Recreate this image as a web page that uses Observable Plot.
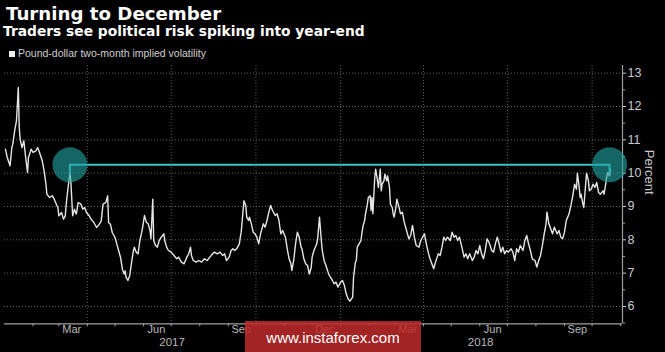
<!DOCTYPE html>
<html><head><meta charset="utf-8">
<script src="https://cdn.jsdelivr.net/npm/d3@7"></script>
<script src="https://cdn.jsdelivr.net/npm/@observablehq/plot@0.6"></script>
<style>
html,body{margin:0;padding:0;background:#000;}
#wrap{position:relative;width:665px;height:352px;overflow:hidden;background:#000;font-family:"Liberation Sans",Arial,sans-serif;}
#title{position:absolute;left:6px;top:5.2px;font-family:"DejaVu Sans",sans-serif;font-size:18.2px;line-height:18.2px;font-weight:bold;color:#fff;white-space:nowrap;}
#subtitle{position:absolute;left:3px;top:25.4px;font-family:"DejaVu Sans",sans-serif;font-size:13.8px;line-height:13.8px;font-weight:bold;color:#fff;white-space:nowrap;}
#legend{position:absolute;left:9px;top:48.3px;font-size:10.5px;line-height:10.5px;color:#cfcfcf;white-space:nowrap;}
#legend .sw{display:inline-block;width:6px;height:6px;background:#eee;margin-right:3px;vertical-align:0px;}
#chart{position:absolute;left:0;top:60px;}
#wm{position:absolute;left:245px;top:321px;width:176px;height:31px;background:rgba(190,42,42,0.86);color:#fff;font-size:15px;line-height:33px;text-align:center;font-family:"Liberation Sans",Arial,sans-serif;}
</style></head>
<body>
<div id="wrap">
  <div id="title">Turning to December</div>
  <div id="subtitle">Traders see political risk spiking into year-end</div>
  <div id="legend"><span class="sw"></span>Pound-dollar two-month implied volatility</div>
  <div id="chart"></div>
  <div id="wm">www.instaforex.com</div>
</div>
<script>
// ---- data ----
const dates = [
 "2017-01-02","2017-01-04","2017-01-07","2017-01-09","2017-01-10","2017-01-12","2017-01-14","2017-01-16","2017-01-17","2017-01-18","2017-01-20","2017-01-22","2017-01-24","2017-01-26","2017-01-27","2017-01-30",
 "2017-02-01","2017-02-04","2017-02-06","2017-02-08","2017-02-11","2017-02-13","2017-02-15","2017-02-16","2017-02-19","2017-02-22","2017-02-24","2017-02-27","2017-02-28",
 "2017-03-01","2017-03-04","2017-03-06","2017-03-08","2017-03-09","2017-03-11","2017-03-13","2017-03-14","2017-03-16","2017-03-18","2017-03-20","2017-03-22","2017-03-25","2017-03-27","2017-03-29","2017-03-31",
 "2017-04-03","2017-04-05","2017-04-08","2017-04-11","2017-04-14","2017-04-16","2017-04-18","2017-04-21","2017-04-23","2017-04-24","2017-04-26","2017-04-28",
 "2017-05-01","2017-05-03","2017-05-05","2017-05-07","2017-05-09","2017-05-11","2017-05-12","2017-05-13","2017-05-15","2017-05-17","2017-05-19","2017-05-21","2017-05-22","2017-05-24","2017-05-26","2017-05-28","2017-05-30","2017-05-31",
 "2017-06-02","2017-06-04","2017-06-06","2017-06-08","2017-06-09","2017-06-11","2017-06-12","2017-06-14","2017-06-16","2017-06-18","2017-06-20","2017-06-23","2017-06-24","2017-06-26","2017-06-28",
 "2017-07-01","2017-07-04","2017-07-07","2017-07-09","2017-07-12","2017-07-15","2017-07-18","2017-07-20","2017-07-22","2017-07-23","2017-07-25","2017-07-28","2017-07-31",
 "2017-08-03","2017-08-06","2017-08-09","2017-08-12","2017-08-15","2017-08-17","2017-08-20","2017-08-23","2017-08-26","2017-08-28","2017-08-30",
 "2017-09-02","2017-09-04","2017-09-06","2017-09-08","2017-09-10","2017-09-13","2017-09-14","2017-09-15","2017-09-17","2017-09-18","2017-09-20","2017-09-21","2017-09-23","2017-09-24","2017-09-26","2017-09-28","2017-09-30",
 "2017-10-02","2017-10-04","2017-10-06","2017-10-09","2017-10-11","2017-10-13","2017-10-15","2017-10-17","2017-10-19","2017-10-22","2017-10-24","2017-10-26","2017-10-28","2017-10-30",
 "2017-11-02","2017-11-04","2017-11-06","2017-11-08","2017-11-09","2017-11-11","2017-11-13","2017-11-15","2017-11-17","2017-11-19","2017-11-20","2017-11-22","2017-11-24","2017-11-26","2017-11-28","2017-11-30",
 "2017-12-01","2017-12-03","2017-12-06","2017-12-07","2017-12-09","2017-12-11","2017-12-12","2017-12-14","2017-12-16","2017-12-19","2017-12-21","2017-12-23","2017-12-25","2017-12-27","2017-12-29",
 "2018-01-01","2018-01-03","2018-01-05","2018-01-07","2018-01-09","2018-01-11","2018-01-14","2018-01-15","2018-01-17","2018-01-18","2018-01-19","2018-01-21","2018-01-23","2018-01-25","2018-01-27","2018-01-28","2018-01-30","2018-01-31",
 "2018-02-02","2018-02-03","2018-02-04","2018-02-05","2018-02-07","2018-02-08","2018-02-10","2018-02-11","2018-02-13","2018-02-14","2018-02-15","2018-02-17","2018-02-18","2018-02-20","2018-02-21","2018-02-23","2018-02-24","2018-02-26","2018-02-27","2018-02-28",
 "2018-03-02","2018-03-03","2018-03-05","2018-03-07","2018-03-09","2018-03-11","2018-03-14","2018-03-16","2018-03-18","2018-03-20","2018-03-22","2018-03-24","2018-03-27","2018-03-29","2018-03-31",
 "2018-04-02","2018-04-04","2018-04-06","2018-04-08","2018-04-10","2018-04-12","2018-04-14","2018-04-17","2018-04-19","2018-04-21","2018-04-23","2018-04-25","2018-04-27","2018-04-30",
 "2018-05-02","2018-05-04","2018-05-06","2018-05-08","2018-05-10","2018-05-13","2018-05-15","2018-05-17","2018-05-19","2018-05-21","2018-05-24","2018-05-26","2018-05-28","2018-05-30",
 "2018-06-01","2018-06-03","2018-06-05","2018-06-07","2018-06-09","2018-06-11","2018-06-14","2018-06-16","2018-06-18","2018-06-20","2018-06-22","2018-06-24","2018-06-26","2018-06-28","2018-06-30",
 "2018-07-02","2018-07-05","2018-07-07","2018-07-09","2018-07-11","2018-07-13","2018-07-15","2018-07-18","2018-07-20","2018-07-22","2018-07-24","2018-07-26","2018-07-28","2018-07-31",
 "2018-08-02","2018-08-04","2018-08-06","2018-08-08","2018-08-10","2018-08-12","2018-08-13","2018-08-15","2018-08-17","2018-08-19","2018-08-21","2018-08-24","2018-08-26","2018-08-28","2018-08-30",
 "2018-09-01","2018-09-03","2018-09-06","2018-09-08","2018-09-10","2018-09-12","2018-09-14","2018-09-15","2018-09-17","2018-09-18","2018-09-19","2018-09-21","2018-09-22","2018-09-24","2018-09-25","2018-09-27","2018-09-28","2018-09-30",
 "2018-10-02","2018-10-04","2018-10-06","2018-10-08","2018-10-10","2018-10-13","2018-10-14","2018-10-16","2018-10-17","2018-10-18","2018-10-20","2018-10-21"
];
const vol = [
 10.72,10.47,10.22,10.77,10.87,11.27,11.57,12.57,11.37,11.02,10.77,10.97,10.47,10.02,10.47,10.72,
 10.62,10.67,10.77,10.62,10.37,10.07,9.67,9.37,9.27,9.32,9.22,9.02,8.97,
 8.72,8.82,8.62,8.72,9.07,9.57,10.0,9.77,8.72,8.92,8.77,9.12,9.07,8.92,8.97,8.82,
 8.72,8.62,8.52,8.37,8.47,8.57,9.07,9.12,9.32,8.52,8.47,8.22,
 8.07,7.87,7.67,7.47,7.12,6.97,7.07,6.87,6.78,6.93,7.33,7.68,7.78,7.63,7.58,7.98,8.23,8.38,
 8.73,8.53,8.48,8.28,8.03,9.22,7.98,7.83,7.78,7.98,8.07,8.18,7.98,7.78,7.68,
 7.63,7.53,7.43,7.48,7.33,7.28,7.48,7.58,7.78,7.53,7.38,7.33,7.38,
 7.33,7.43,7.38,7.48,7.58,7.63,7.58,7.63,7.53,7.58,7.38,
 7.48,7.68,7.73,7.68,7.73,7.88,8.07,8.23,8.88,9.17,9.02,8.68,8.58,8.68,8.48,8.23,8.18,
 8.08,7.88,8.18,8.48,8.38,8.58,8.83,9.03,8.88,8.73,8.78,8.58,8.18,8.28,
 8.08,7.73,7.43,7.28,7.08,7.38,7.88,8.23,8.08,7.78,7.73,7.43,7.28,7.23,6.97,7.17,
 7.48,7.68,7.88,8.03,8.68,7.98,7.68,7.38,7.23,6.97,6.87,6.78,6.68,6.73,6.58,
 6.73,6.78,6.63,6.38,6.23,6.16,6.28,6.88,7.33,7.38,7.78,7.88,7.98,8.38,8.58,8.78,9.07,9.27,
 9.32,8.88,9.27,8.78,9.87,10.12,9.77,9.57,10.12,9.47,9.67,9.77,9.97,9.77,9.92,9.57,9.07,8.97,8.78,8.68,
 8.97,9.22,9.02,8.78,8.83,8.53,8.23,8.03,8.13,8.43,8.08,7.83,7.78,7.98,8.08,
 8.18,7.88,7.63,7.43,7.28,7.13,7.33,7.58,7.53,7.78,8.08,7.98,8.08,7.98,
 8.23,8.08,8.13,7.98,8.08,7.73,7.48,7.58,7.43,7.58,7.38,7.48,7.68,7.58,
 7.83,7.58,7.43,7.68,8.03,7.93,7.68,7.63,7.88,8.08,7.88,7.63,7.78,7.58,7.68,
 7.63,7.73,7.63,7.38,7.73,7.63,7.83,7.68,7.98,8.13,7.88,7.68,7.43,7.38,
 7.18,7.38,7.53,7.83,8.18,8.48,8.83,8.48,8.33,8.18,8.38,8.18,8.28,8.08,8.03,
 8.23,8.58,8.78,9.03,9.32,9.67,9.52,10.0,9.57,9.27,9.37,9.07,8.97,9.67,10.0,9.77,9.47,9.52,
 9.67,9.57,9.72,9.42,9.37,9.47,9.37,9.72,9.92,10.02,9.92,10.12
];
// annotation: bracket between the two ~10% peaks
const bracketDates = ["2017-03-13", "2018-10-20"];
const bracketLevel = 10.25;
const bracketFoot = 10.0;
// axes
const xDomain = ["2017-01-01", "2018-11-03"];
const yDomain = [5.48, 13.23];
const yTicks = [6, 7, 8, 9, 10, 11, 12, 13];
const yMinorTicks = [5.5, 6.5, 7.5, 8.5, 9.5, 10.5, 11.5, 12.5];
const gridDates = ["2017-04-01", "2017-07-01", "2017-10-01", "2018-01-01", "2018-04-01", "2018-07-01", "2018-10-01"];
const monthTickDates = ["2017-02-01","2017-03-01","2017-04-01","2017-05-01","2017-06-01","2017-07-01","2017-08-01","2017-09-01","2017-10-01","2017-11-01","2017-12-01","2018-01-01","2018-02-01","2018-03-01","2018-04-01","2018-05-01","2018-06-01","2018-07-01","2018-08-01","2018-09-01","2018-10-01","2018-11-01"];
const monthLabels = ["Mar", "Jun", "Sep", "Dec", "Mar", "Jun", "Sep"];
const monthLabelDates = ["2017-03-15", "2017-06-15", "2017-09-15", "2017-12-15", "2018-03-15", "2018-06-15", "2018-09-15"];
const yearLabels = ["2017", "2018"];
const yearLabelDates = ["2017-07-02", "2018-06-02"];

// ---- build ----
const P = s => new Date(s + "T00:00:00Z");
const n = Math.min(dates.length, vol.length);
const series = d3.range(n).map(i => ({date: P(dates[i]), v: vol[i]}));
const bracket = [
  {date: P(bracketDates[0]), v: bracketFoot},
  {date: P(bracketDates[0]), v: bracketLevel},
  {date: P(bracketDates[1]), v: bracketLevel},
  {date: P(bracketDates[1]), v: bracketFoot}
];
const ends = bracketDates.map(d => ({date: P(d), v: bracketLevel}));
const mLabels = monthLabels.map((t, i) => ({date: P(monthLabelDates[i]), t}));
const yLabels = yearLabels.map((t, i) => ({date: P(yearLabelDates[i]), t}));

const chart = Plot.plot({
  width: 665, height: 292,
  marginTop: 5, marginLeft: 4, marginRight: 43, marginBottom: 28.7,
  style: {background: "transparent", color: "#c8c8c8", fontFamily: "Liberation Sans, Arial, sans-serif"},
  x: {type: "utc", domain: xDomain.map(P)},
  y: {domain: yDomain},
  marks: [
    Plot.gridY(yTicks, {stroke: "#8a8a8a", strokeOpacity: 0.75, strokeDasharray: "1,2"}),
    Plot.gridX(gridDates.map(P), {stroke: "#8a8a8a", strokeOpacity: 0.65, strokeDasharray: "1,2"}),
    Plot.ruleY(yDomain.slice(0, 1), {stroke: "#a0a0a0", strokeWidth: 1.2}),
    Plot.ruleX(xDomain.slice(1).map(P), {stroke: "#a0a0a0", strokeWidth: 1.2}),
    Plot.axisX(monthTickDates.map(P), {tickSize: 3, tickFormat: () => "", stroke: "#a0a0a0", label: null}),
    Plot.axisY(yMinorTicks, {anchor: "right", tickSize: 2, tickFormat: () => "", stroke: "#a0a0a0", label: null}),
    Plot.axisY(yTicks, {anchor: "right", tickSize: 3, tickPadding: 2, fontSize: 12.5, color: "#cacaca", label: null}),
    Plot.text(mLabels, {x: "date", text: "t", frameAnchor: "bottom", dy: 8.7, fontSize: 11, fill: "#b8b8b8"}),
    Plot.text(yLabels, {x: "date", text: "t", frameAnchor: "bottom", dy: 21.7, fontSize: 11.5, fill: "#b8b8b8"}),
    Plot.text(["Percent"], {frameAnchor: "right", dx: 27, rotate: 90, fontSize: 13, fill: "#c8c8c8"}),
    Plot.line(series, {x: "date", y: "v", stroke: "#e6e6e6", strokeWidth: 1.4}),
    Plot.line(bracket, {x: "date", y: "v", stroke: "#35c6c6", strokeWidth: 2}),
    Plot.dot(ends, {x: "date", y: "v", r: 17.5, fill: "#22a3a3", fillOpacity: 0.62, stroke: "none"})
  ]
});
document.getElementById("chart").appendChild(chart);
</script>
</body></html>
